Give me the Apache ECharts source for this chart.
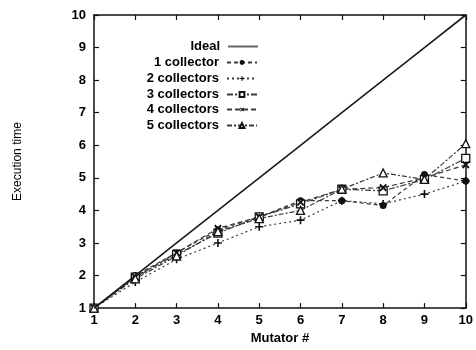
<!DOCTYPE html>
<html>
<head>
<meta charset="utf-8">
<script src="https://cdn.jsdelivr.net/npm/echarts@6/dist/echarts.min.js"></script>
<style>
  html, body { margin: 0; padding: 0; background: #fff; }
  #chart { width: 476px; height: 350px; }
</style>
</head>
<body>
<div id="chart"></div>
<script>
// Mutator count on the x axis
const mutators = [1, 2, 3, 4, 5, 6, 7, 8, 9, 10];

// Execution time per configuration
const ideal       = [1, 2, 3, 4, 5, 6, 7, 8, 9, 10];
const collector1  = [1, 2.0, 2.7, 3.4, 3.8, 4.3, 4.3, 4.15, 5.1, 4.9];
const collectors2 = [1, 1.8, 2.5, 3.0, 3.5, 3.7, 4.3, 4.2, 4.5, 4.9];
const collectors3 = [1, 1.95, 2.65, 3.3, 3.8, 4.2, 4.65, 4.6, 4.95, 5.6];
const collectors4 = [1, 1.95, 2.7, 3.45, 3.8, 4.25, 4.65, 4.7, 5.0, 5.4];
const collectors5 = [1, 1.9, 2.6, 3.35, 3.75, 4.0, 4.65, 5.15, 4.95, 6.05];

const seriesNames = ['Ideal', '1 collector', '2 collectors', '3 collectors', '4 collectors', '5 collectors'];
const yTicks = [1, 2, 3, 4, 5, 6, 7, 8, 9, 10];

const FONT = '"Liberation Sans", Arial, sans-serif';
const plus = 'path://M4,0H6V4H10V6H6V10H4V6H0V4H4Z';

function pairs(ys) { return mutators.map((x, i) => [x, ys[i]]); }

const chart = echarts.init(document.getElementById('chart'), null, { renderer: 'canvas' });

const axisCommon = {
  type: 'value', min: 1, max: 10, interval: 1,
  axisLine: { show: true, onZero: false, lineStyle: { color: '#111', width: 1.5 } },
  axisTick: { show: true, inside: true, length: 5, lineStyle: { color: '#111', width: 1.2 } },
  splitLine: { show: false }
};

const lineSeries = [
  { name: 'Ideal', data: ideal, symbol: 'none', type: 'solid', width: 1.6, color: '#1a1a1a' },
  { name: '1 collector', data: collector1, symbol: 'circle', size: 7, type: [4, 3], fill: '#111' },
  { name: '2 collectors', data: collectors2, symbol: plus, size: 8, type: [2, 3], fill: '#111' },
  { name: '3 collectors', data: collectors3, symbol: 'rect', size: 8, type: [6, 2, 2, 2], fill: '#fff', border: 1.3 },
  { name: '4 collectors', data: collectors4, symbol: plus, size: 9, rotate: 45, type: [5, 3], fill: '#111' },
  { name: '5 collectors', data: collectors5, symbol: 'triangle', size: 8, type: [5, 2, 2, 2], fill: '#fff', border: 1.3 }
];

const legendRows = [48, 64, 80, 96, 111, 127];

function legendFor(n, i) {
  const isIdeal = n === 'Ideal';
  return {
    data: isIdeal ? [{ name: n, icon: 'rect', itemStyle: { color: '#666' } }] : [n],
    orient: 'vertical',
    align: 'right',
    right: 218,
    top: legendRows[i] - 8,
    itemWidth: 30,
    itemHeight: isIdeal ? 2 : 6,
    itemGap: 0,
    padding: 0,
    selectedMode: false,
    textStyle: { fontFamily: FONT, fontSize: 13, fontWeight: 'bold', color: '#000', padding: [0, 3, 0, 0] }
  };
}

chart.setOption({
  animation: false,
  backgroundColor: '#fff',
  textStyle: { fontFamily: FONT },
  grid: { left: 94, right: 10, top: 15, bottom: 41 },
  legend: seriesNames.map(legendFor),
  xAxis: [
    Object.assign({}, axisCommon, {
      position: 'bottom',
      name: 'Mutator #', nameLocation: 'middle', nameGap: 21,
      nameTextStyle: { fontFamily: FONT, fontSize: 13, fontWeight: 'bold', color: '#000' },
      axisLabel: { color: '#000', fontSize: 13, fontFamily: FONT, fontWeight: 'bold', margin: 6 }
    }),
    Object.assign({}, axisCommon, { position: 'top', axisLabel: { show: false } })
  ],
  yAxis: [
    Object.assign({}, axisCommon, {
      position: 'left',
      name: 'Execution time', nameLocation: 'middle', nameGap: 70, nameRotate: 90,
      nameTextStyle: { fontFamily: FONT, fontSize: 12, color: '#000' },
      axisLabel: {
        color: '#000', fontSize: 13, fontFamily: FONT, fontWeight: 'bold', margin: 8,
        formatter: v => (yTicks.includes(v) ? String(v) : '')
      }
    }),
    Object.assign({}, axisCommon, { position: 'right', axisLabel: { show: false } })
  ],
  series: lineSeries.map(s => ({
    name: s.name,
    type: 'line',
    xAxisIndex: 0,
    yAxisIndex: 0,
    data: pairs(s.data),
    symbol: s.symbol,
    symbolSize: s.size || 0,
    symbolRotate: s.rotate || 0,
    showSymbol: s.symbol !== 'none',
    lineStyle: { color: s.color || '#3a3a3a', width: s.width || 1.2, type: s.type },
    itemStyle: { color: s.fill || '#111', borderColor: '#111', borderWidth: s.border || 0 },
    emphasis: { disabled: true },
    z: s.name === 'Ideal' ? 3 : 2
  }))
});
</script>
</body>
</html>
